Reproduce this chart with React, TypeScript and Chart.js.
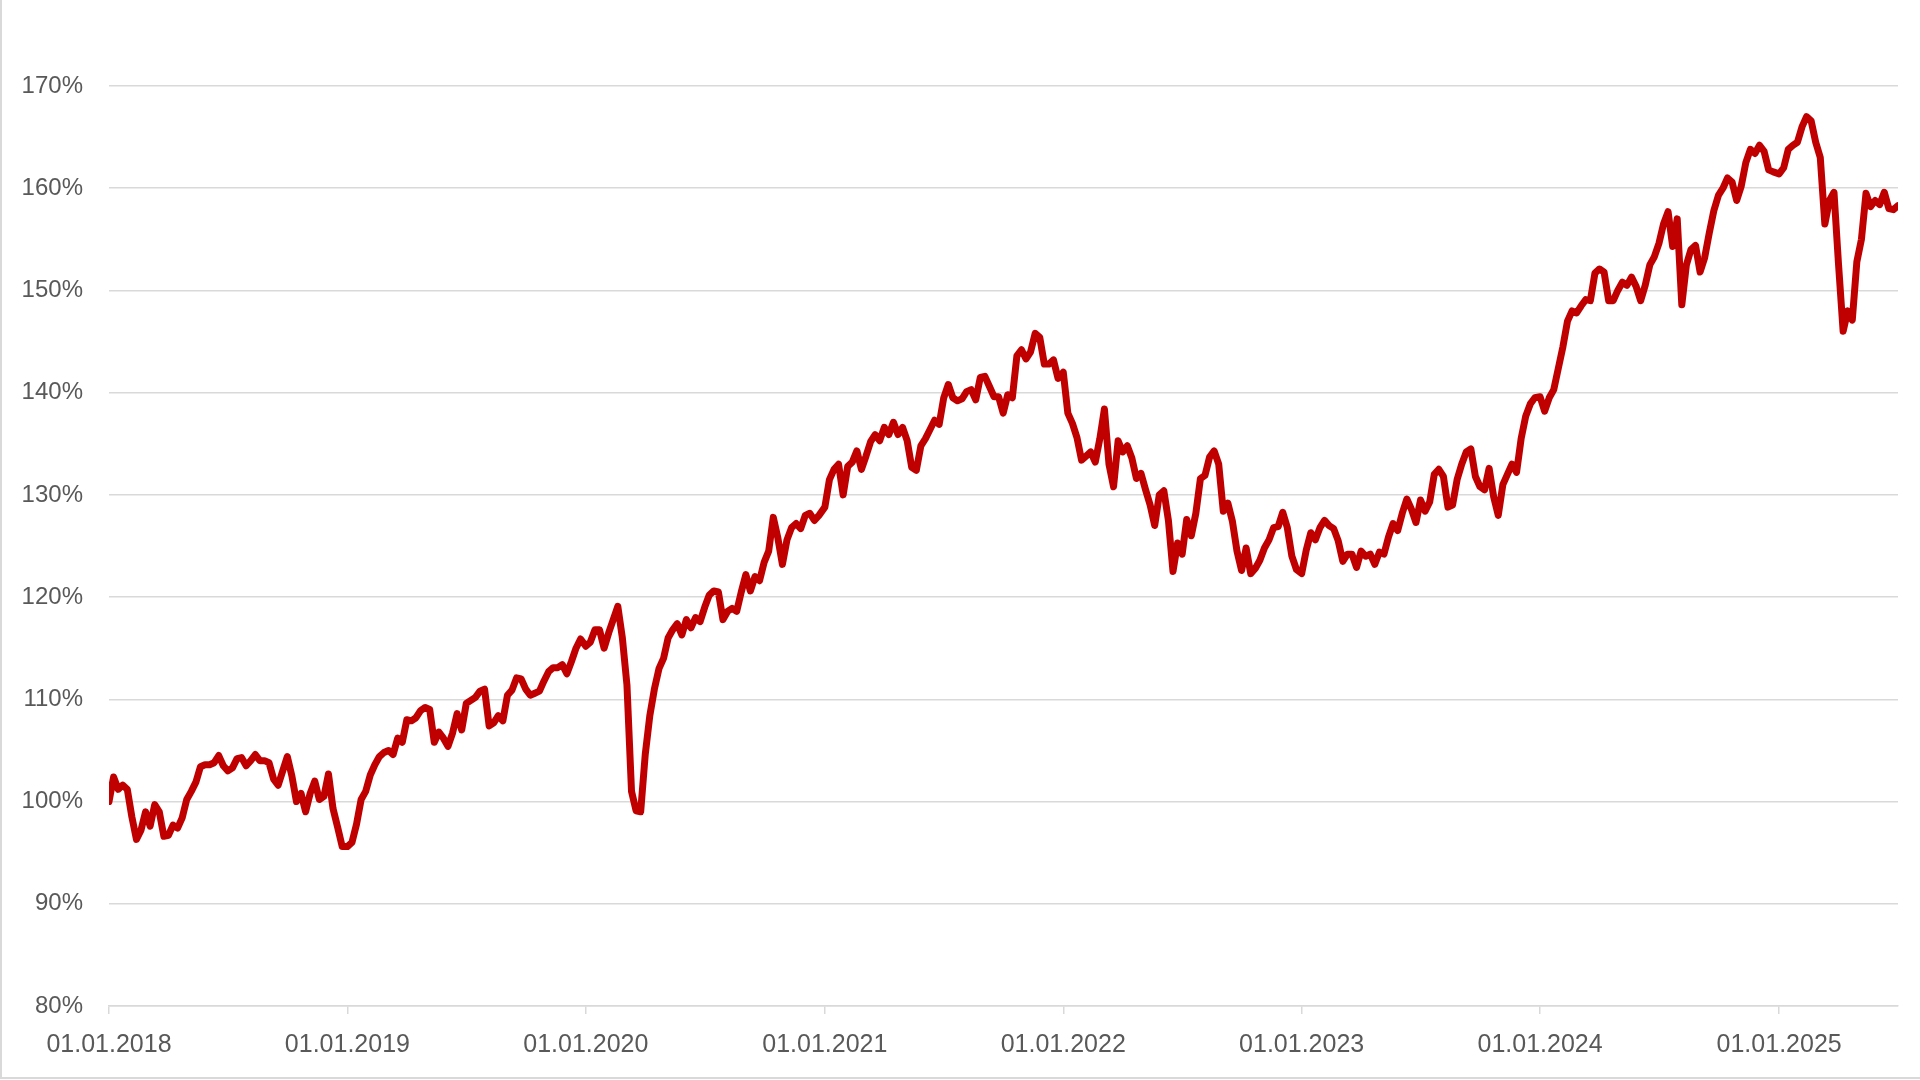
import React, { useEffect, useRef } from "react";
import { Chart, registerables } from "chart.js";

Chart.register(...registerables);

// Weekly values (% of start), each year's list starts on 1 January of that year
const v2018 = [
  100.0, 102.4, 101.2, 101.6, 101.2, 98.5, 96.3, 97.2, 99.0, 97.6,
  99.7, 99.0, 96.6, 96.7, 97.7, 97.4, 98.4, 100.2, 101.0, 101.9,
  103.4, 103.6, 103.6, 103.8, 104.5, 103.5, 103.0, 103.3, 104.2, 104.3,
  103.5, 104.0, 104.6, 104.0, 104.0, 103.8, 102.2, 101.6, 103.0, 104.4,
  102.5, 100.0, 100.8, 99.0, 100.8, 102.0, 100.2, 100.5, 102.7, 99.3,
  97.5, 95.6,
];
const v2019 = [
  95.6, 96.0, 97.8, 100.2, 101.0, 102.6, 103.6, 104.4, 104.8, 105.0,
  104.6, 106.2, 105.8, 108.0, 107.9, 108.2, 108.9, 109.2, 109.0, 105.8,
  106.8, 106.2, 105.4, 106.7, 108.6, 107.0, 109.6, 109.9, 110.2, 110.8,
  111.0, 107.4, 107.7, 108.4, 107.9, 110.4, 110.9, 112.1, 112.0, 111.0,
  110.4, 110.6, 110.8, 111.8, 112.7, 113.1, 113.1, 113.4, 112.5, 113.7,
  115.0, 115.9,
];
const v2020 = [
  115.2, 115.6, 116.8, 116.8, 115.0, 116.5, 117.8, 119.1, 116.0, 111.4,
  101.0, 99.1, 99.0, 104.6, 108.4, 111.0, 113.0, 114.0, 116.0, 116.8,
  117.4, 116.3, 117.8, 117.0, 118.0, 117.6, 119.0, 120.2, 120.6, 120.5,
  117.8, 118.6, 118.9, 118.6, 120.5, 122.2, 120.6, 122.0, 121.6, 123.4,
  124.5, 127.8, 125.8, 123.2, 125.6, 126.8, 127.2, 126.7, 128.0, 128.2,
  127.5, 128.0,
];
const v2021 = [
  128.8, 131.5, 132.5, 133.0, 130.0, 132.8, 133.2, 134.3, 132.5, 133.8,
  135.2, 135.9, 135.3, 136.6, 135.9, 137.1, 135.9, 136.6, 135.3, 132.7,
  132.4, 134.8, 135.5, 136.4, 137.3, 136.9, 139.5, 140.8, 139.5, 139.2,
  139.4, 140.1, 140.3, 139.3, 141.5, 141.6, 140.6, 139.6, 139.6, 138.0,
  139.8, 139.5, 143.6, 144.2, 143.3, 144.0, 145.8, 145.4, 142.8, 142.8,
  143.2, 141.4,
];
const v2022 = [
  142.0, 138.0, 137.0, 135.6, 133.4, 133.8, 134.2, 133.2, 135.5, 138.4,
  133.0, 130.8, 135.3, 134.2, 134.8, 133.6, 131.6, 132.1, 130.5, 129.0,
  127.0, 130.0, 130.4, 127.5, 122.5, 125.3, 124.2, 127.6, 126.0, 128.2,
  131.6, 131.9, 133.7, 134.3, 133.0, 128.4, 129.2, 127.4, 124.5, 122.6,
  124.8, 122.3, 122.8, 123.6, 124.8, 125.6, 126.8, 126.9, 128.3, 126.8,
  124.0, 122.7,
];
const v2023 = [
  122.3, 124.6, 126.3, 125.6, 126.8, 127.5, 127.0, 126.7, 125.5, 123.5,
  124.2, 124.2, 122.9, 124.5, 124.0, 124.2, 123.2, 124.4, 124.2, 125.9,
  127.2, 126.5, 128.2, 129.6, 128.6, 127.3, 129.5, 128.4, 129.3, 132.0,
  132.5, 131.8, 128.8, 129.0, 131.5, 133.0, 134.2, 134.5, 131.8, 130.8,
  130.5, 132.6, 129.8, 128.0, 131.0, 132.0, 133.0, 132.2, 135.5, 137.7,
  138.9, 139.5,
];
const v2024 = [
  139.6, 138.2, 139.5, 140.3, 142.4, 144.5, 147.0, 148.0, 147.8, 148.5,
  149.1, 149.0, 151.7, 152.1, 151.8, 149.0, 149.0, 150.0, 150.8, 150.5,
  151.3, 150.4, 149.0, 150.5, 152.5, 153.3, 154.6, 156.5, 157.7, 154.3,
  157.0, 148.6, 152.5, 154.0, 154.4, 151.8, 153.2, 155.6, 157.8, 159.3,
  160.0, 161.0, 160.6, 158.8, 160.2, 162.5, 163.8, 163.4, 164.2, 163.6,
  161.8, 161.6,
];
const v2025 = [
  161.4, 162.0, 163.8, 164.2, 164.5, 166.0, 167.0, 166.6, 164.5, 163.0,
  156.5, 158.8, 159.6, 152.5, 146.0, 148.0, 147.1, 152.8, 155.0, 159.5,
  158.2, 158.8, 158.4, 159.6, 158.0, 157.9, 158.3,
];

const seriesYears = [2018, 2019, 2020, 2021, 2022, 2023, 2024, 2025];
const seriesValues = [v2018, v2019, v2020, v2021, v2022, v2023, v2024, v2025];
const tickYears = [2018, 2019, 2020, 2021, 2022, 2023, 2024, 2025];
const yTicks = [80, 90, 100, 110, 120, 130, 140, 150, 160, 170];

const BASE = Date.UTC(2018, 0, 1);
const dayOf = (y: number, m = 0, d = 1) => Math.round((Date.UTC(y, m, d) - BASE) / 86400000);

export default function App() {
  const ref = useRef<HTMLCanvasElement | null>(null);

  useEffect(() => {
    document.body.style.margin = "0";
    const canvas = ref.current;
    if (!canvas) return;

    const points: { x: number; y: number }[] = [];
    seriesYears.forEach((yr, k) => {
      const start = dayOf(yr);
      seriesValues[k].forEach((v, i) => points.push({ x: start + 7 * i, y: v }));
    });
    const lastDay = points[points.length - 1].x;
    const tickDays = tickYears.map((y) => dayOf(y));
    const labelFor = (v: number) => {
      const idx = tickDays.indexOf(Math.round(v));
      return idx >= 0 ? "01.01." + tickYears[idx] : "";
    };

    const font = { family: '"Liberation Sans", Arial, sans-serif', size: 24 };
    const grey = "#595959";
    const gridColor = "#d9d9d9";

    const chart = new Chart(canvas, {
      type: "line",
      data: {
        datasets: [
          {
            data: points,
            borderColor: "#C00000",
            backgroundColor: "#C00000",
            borderWidth: 7,
            pointRadius: 0,
            tension: 0,
            borderJoinStyle: "round",
            borderCapStyle: "round",
          },
        ],
      },
      options: {
        animation: false,
        responsive: false,
        maintainAspectRatio: false,
        layout: { padding: { top: 86, right: 22, left: 0, bottom: 0 } },
        plugins: { legend: { display: false }, tooltip: { enabled: false } },
        scales: {
          x: {
            type: "linear",
            min: 0,
            max: lastDay,
            afterBuildTicks: (s: any) => {
              s.ticks = tickDays.map((v) => ({ value: v }));
            },
            afterFit: (s: any) => {
              s.height = 74;
            },
            ticks: {
              callback: (v: any) => labelFor(Number(v)),
              font: { ...font, size: 25 },
              color: grey,
              padding: 16,
              maxRotation: 0,
              autoSkip: false,
            },
            grid: {
              drawOnChartArea: false,
              drawTicks: true,
              tickLength: 8,
              color: gridColor,
              lineWidth: 1.5,
            },
            border: { display: true, color: gridColor, width: 1.5 },
          },
          y: {
            min: yTicks[0],
            max: yTicks[yTicks.length - 1],
            afterBuildTicks: (s: any) => {
              s.ticks = yTicks.map((v) => ({ value: v }));
            },
            afterFit: (s: any) => {
              s.width = 109;
            },
            ticks: {
              callback: (v: any) => v + "%",
              font,
              color: grey,
              padding: 26,
            },
            grid: { color: gridColor, lineWidth: 1.5, drawTicks: false },
            border: { display: false },
          },
        },
      },
    } as any);

    return () => chart.destroy();
  }, []);

  return (
    <div
      style={{
        position: "fixed",
        left: 0,
        top: 0,
        width: 1920,
        height: 1080,
        background: "#ffffff",
        overflow: "hidden",
      }}
    >
      <canvas ref={ref} width={1920} height={1080} style={{ display: "block" }} />
      <div style={{ position: "absolute", left: 0, top: 0, width: 2, height: 1079, background: "#d9d9d9" }} />
      <div style={{ position: "absolute", left: 0, top: 1077, width: 1920, height: 2, background: "#d9d9d9" }} />
    </div>
  );
}
